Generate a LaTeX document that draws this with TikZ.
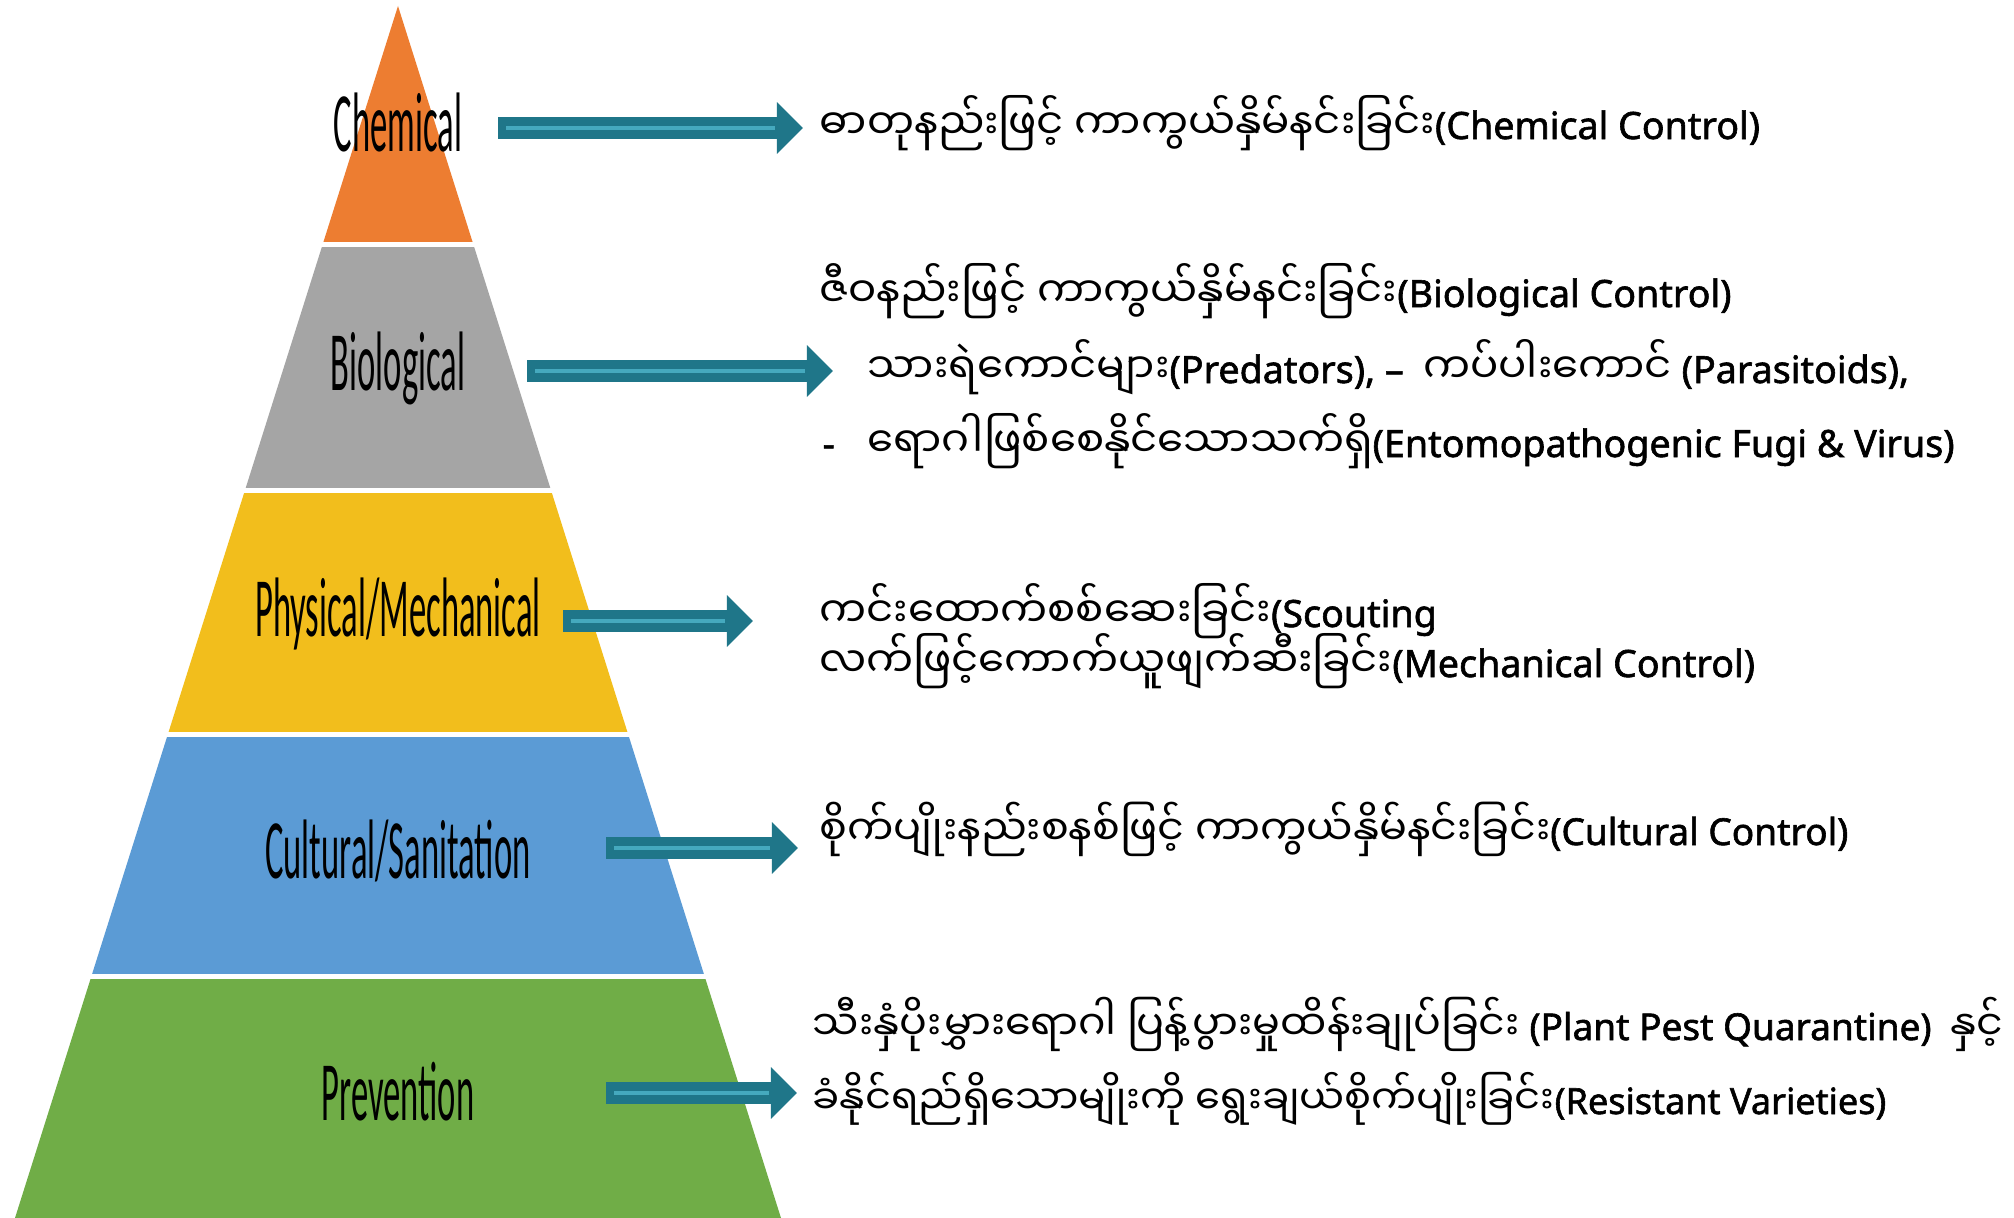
\documentclass[tikz,border=0pt]{standalone}
\usepackage{fontspec}
\setmainfont{Noto Sans}
\newfontfamily\myfont[Script=Myanmar]{Noto Sans Myanmar UI}
\newfontfamily\enfont[FakeBold=1.6]{Noto Sans}
\newfontfamily\labfont{Carlito}
\usetikzlibrary{arrows.meta,calc}
\definecolor{cOrange}{HTML}{ED7D31}
\definecolor{cGray}{HTML}{A5A5A5}
\definecolor{cGold}{HTML}{F2BE1C}
\definecolor{cBlue}{HTML}{5B9BD5}
\definecolor{cGreen}{HTML}{70AD47}
\definecolor{cTeal}{HTML}{1F7689}
\definecolor{cTealL}{HTML}{45A9BE}
\newcommand{\mmtxt}[1]{{\myfont\fontsize{11.9}{15}\selectfont #1}}
\newcommand{\entxt}[1]{{\enfont\fontsize{10.7}{13}\selectfont #1}}
\newcommand{\labtxt}[1]{\scalebox{0.41}[1]{#1}}
\tikzset{
  lvl/.style={font=\labfont\fontsize{24}{28}\selectfont, anchor=base, inner sep=0pt, text=black},
  txt/.style={anchor=base west, inner sep=0pt, font=\fontsize{10.7}{13}\selectfont, text=black},
  barrow/.style={cTeal, line width=0.22cm, -{Triangle[length=0.26cm,width=0.5cm]}},
  stripe/.style={cTealL, line width=0.035cm}
}
\begin{document}
\begin{tikzpicture}[x=0.01cm,y=-0.01cm]
\useasboundingbox[fill=white] (0,0) rectangle (2014,1218);
% pyramid
\begin{scope}
  \clip (398,6) -- (15,1218) -- (781,1218) -- cycle;
  \fill[cOrange] (0,0) rectangle (900,241.5);
  \fill[cGray] (0,246.5) rectangle (900,488);
  \fill[cGold] (0,492.5) rectangle (900,732);
  \fill[cBlue] (0,737) rectangle (900,973.5);
  \fill[cGreen] (0,978.5) rectangle (900,1218);
\end{scope}
% pyramid labels
\node[lvl] (chem) at (398,151) {\labtxt{Chemical}};
\node[lvl] (bio) at (398,390) {\labtxt{Biological}};
\node[lvl] (phys) at (398,636) {\labtxt{Physical/Mechanical}};
\node[lvl] (cult) at (398,878) {\labtxt{Cultural/Sanitation}};
\node[lvl] (prev) at (398,1120) {\labtxt{Prevention}};
% texts
\node[txt] (t1) at (819,139) {\mmtxt{ဓာတုနည်းဖြင့် ကာကွယ်နှိမ်နင်းခြင်း}\entxt{(Chemical Control)}};
\node[txt] (t2) at (819,307) {\mmtxt{ဇီဝနည်းဖြင့် ကာကွယ်နှိမ်နင်းခြင်း}\entxt{(Biological Control)}};
\node[txt] (t3) at (867,383) {\mmtxt{သားရဲကောင်များ}\entxt{(Predators), –}\ \ \mmtxt{ကပ်ပါးကောင်}\entxt{ (Parasitoids),}};
\node[txt] (t4) at (822,457) {\makebox[0.45cm][l]{\entxt{-}}\mmtxt{ရောဂါဖြစ်စေနိုင်သောသက်ရှိ}\entxt{(Entomopathogenic Fugi \& Virus)}};
\node[txt] (t5) at (819,627) {\mmtxt{ကင်းထောက်စစ်ဆေးခြင်း}\entxt{(Scouting}};
\node[txt] (t6) at (819,677) {\mmtxt{လက်ဖြင့်ကောက်ယူဖျက်ဆီးခြင်း}\entxt{(Mechanical Control)}};
\node[txt] (t7) at (819,845) {\resizebox{10.28cm}{!}{\mmtxt{စိုက်ပျိုးနည်းစနစ်ဖြင့် ကာကွယ်နှိမ်နင်းခြင်း}\entxt{(Cultural Control)}}};
\node[txt] (t8) at (812,1040) {\resizebox{11.9cm}{!}{\mmtxt{သီးနှံပိုးမွှားရောဂါ ပြန့်ပွားမှုထိန်းချုပ်ခြင်း} \entxt{(Plant Pest Quarantine)}\ \ \mmtxt{နှင့်}}};
\node[txt] (t9) at (812,1114) {\resizebox{10.73cm}{!}{\mmtxt{ခံနိုင်ရည်ရှိသောမျိုးကို ရွေးချယ်စိုက်ပျိုးခြင်း}\entxt{(Resistant Varieties)}}};
% arrows
\coordinate (a1s) at (498,128); \coordinate (a1e) at (803,128);
\coordinate (a2s) at (527,371); \coordinate (a2e) at (833,371);
\coordinate (a3s) at (563,621); \coordinate (a3e) at (753,621);
\coordinate (a4s) at (606,848); \coordinate (a4e) at (798,848);
\coordinate (a5s) at (606,1093); \coordinate (a5e) at (797,1093);
\foreach \i in {1,...,5}{
  \draw[barrow] (a\i s) -- (a\i e);
  \draw[stripe] ($(a\i s)+(8,0)$) -- ($(a\i e)+(-28,0)$);
}
\end{tikzpicture}
\end{document}
